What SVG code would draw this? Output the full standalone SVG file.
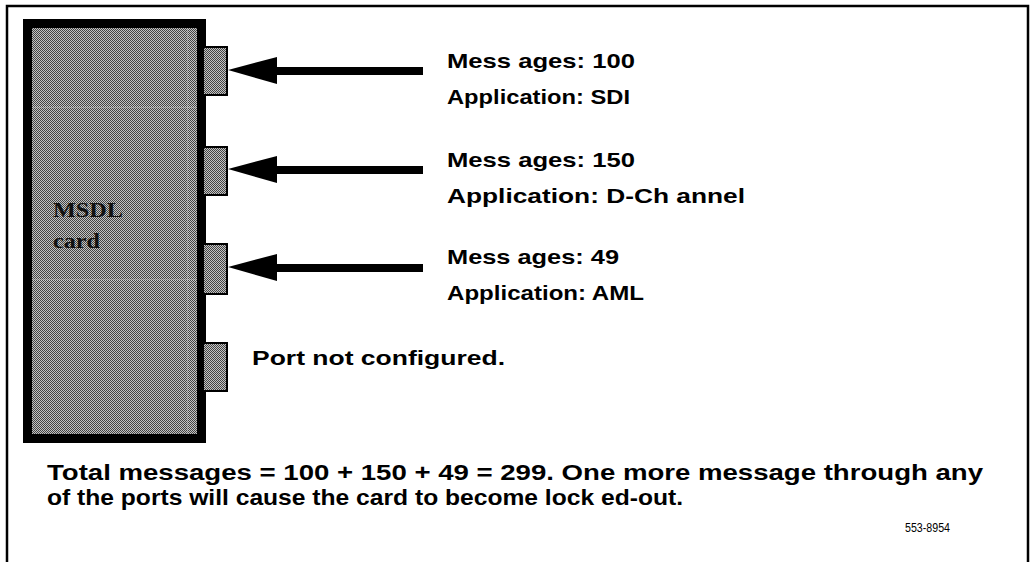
<svg xmlns="http://www.w3.org/2000/svg" width="1030" height="562" viewBox="0 0 1030 562">
<style>
.lbl{font-family:"Liberation Sans",Arial,sans-serif;font-weight:bold;font-size:21px;fill:#000}
.note{font-family:"Liberation Sans",Arial,sans-serif;font-weight:bold;font-size:22px;fill:#000}
.card{font-family:"Liberation Serif","Times New Roman",serif;font-weight:bold;font-size:22px;fill:#111}
.small{font-family:"Liberation Sans",Arial,sans-serif;font-size:12px;fill:#000}
.port{fill:url(#dots);stroke:#000;stroke-width:2}
.shaft{stroke:#000;stroke-width:8}
.head{fill:#000}
.seam{stroke:#f0f0f0;stroke-width:1;stroke-dasharray:1 1;opacity:0.6}
</style>
<defs>
<pattern id="dots" width="2" height="2" patternUnits="userSpaceOnUse">
<rect width="2" height="2" fill="#c4c4c4"/>
<rect width="1" height="1" fill="#444"/>
<rect x="1" y="1" width="1" height="1" fill="#444"/>
</pattern>
</defs>
<rect width="1030" height="562" fill="#fff"/>
<g id="frame">
<path d="M7 562 V6 H1028 V562" fill="none" stroke="#000" stroke-width="2.5"/>
</g>
<g id="msdl-card">
<rect x="27.5" y="23.5" width="174" height="415" fill="url(#dots)" stroke="#000" stroke-width="9"/>
<rect x="198" y="23" width="6" height="420" fill="#000"/>
<line class="seam" x1="33" y1="107" x2="197" y2="107"/>
<line class="seam" x1="33" y1="280" x2="197" y2="280"/>
<line class="seam" x1="188" y1="29" x2="188" y2="434"/>
<text class="card" x="53" y="217" textLength="70" lengthAdjust="spacingAndGlyphs">MSDL</text>
<text class="card" x="53" y="248" textLength="47" lengthAdjust="spacingAndGlyphs">card</text>
</g>
<g id="port1"><rect class="port" x="203" y="47" width="24" height="48"/></g>
<g id="port2"><rect class="port" x="203" y="147" width="24" height="48"/></g>
<g id="port3"><rect class="port" x="203" y="244" width="24" height="50"/></g>
<g id="port4"><rect class="port" x="203" y="343" width="24" height="48"/></g>
<g id="connectors">
<line class="shaft" x1="423" y1="71" x2="276" y2="71"/>
<polygon class="head" points="228,70 277,57 277,84"/>
<line class="shaft" x1="423" y1="170" x2="276" y2="170"/>
<polygon class="head" points="228,169 277,156 277,183"/>
<line class="shaft" x1="423" y1="268" x2="276" y2="268"/>
<polygon class="head" points="228,267 277,254 277,281"/>
</g>
<g id="label1">
<text class="lbl" x="447" y="68" textLength="188" lengthAdjust="spacingAndGlyphs">Mess ages: 100</text>
<text class="lbl" x="447" y="104" textLength="183" lengthAdjust="spacingAndGlyphs">Application: SDI</text>
</g>
<g id="label2">
<text class="lbl" x="447" y="167" textLength="188" lengthAdjust="spacingAndGlyphs">Mess ages: 150</text>
<text class="lbl" x="447" y="203" textLength="298" lengthAdjust="spacingAndGlyphs">Application: D-Ch annel</text>
</g>
<g id="label3">
<text class="lbl" x="447" y="264" textLength="172" lengthAdjust="spacingAndGlyphs">Mess ages: 49</text>
<text class="lbl" x="447" y="300" textLength="197" lengthAdjust="spacingAndGlyphs">Application: AML</text>
</g>
<g id="label4">
<text class="lbl" x="252" y="365" textLength="253" lengthAdjust="spacingAndGlyphs">Port not configured.</text>
</g>
<g id="note">
<text class="note" x="47" y="480" textLength="936" lengthAdjust="spacingAndGlyphs">Total messages = 100 + 150 + 49 = 299. One more message through any</text>
<text class="note" x="47" y="505" textLength="636" lengthAdjust="spacingAndGlyphs">of the ports will cause the card to become lock ed-out.</text>
<text class="small" x="905" y="532" textLength="45" lengthAdjust="spacingAndGlyphs">553-8954</text>
</g>
</svg>
